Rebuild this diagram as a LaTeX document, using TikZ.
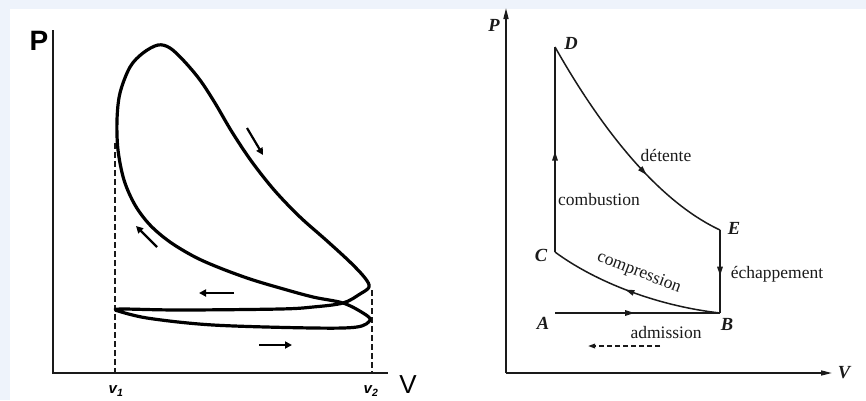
\documentclass[tikz,border=0pt]{standalone}
\usepackage{fontspec}
\setmainfont{Liberation Serif}
\newfontfamily\sansf{Liberation Sans}
\usetikzlibrary{arrows.meta,decorations.markings}
\definecolor{bgblue}{HTML}{EEF3FB}
\definecolor{ink}{HTML}{1A1A1A}
\begin{document}
\begin{tikzpicture}[x=1pt,y=-1pt,
  axisL/.style={line width=1.9pt,ink},
  dashv/.style={line width=1.7pt,ink,dash pattern=on 6pt off 3pt},
  loopline/.style={line width=3.2pt,black,line join=round},
  flowarrow/.style={line width=2.2pt,black,-{Triangle[length=7pt,width=7pt]}},
  thinline/.style={line width=1.5pt,ink},
  axisR/.style={line width=1.5pt,ink,-{Triangle[length=11pt,width=5pt]}},
  midarrow/.style={postaction={decorate},decoration={markings,
     mark=at position #1 with {\arrow{Triangle[length=9pt,width=5.5pt]}}}},
  lbl/.style={inner sep=0pt,font=\fontsize{17.5}{20}\selectfont,text=ink},
  ptlbl/.style={inner sep=0pt,font=\fontsize{18.5}{20}\selectfont\itshape\bfseries,text=ink},
  vlbl/.style={inner sep=0pt,font=\sansf\fontsize{15}{16}\selectfont\bfseries\itshape}
]
\useasboundingbox (0,0) rectangle (866,400);
\fill[bgblue] (0,0) rectangle (866,400);
\fill[white] (10,9) rectangle (866,400);

% ---------- left diagram ----------
\node[inner sep=0pt,font=\sansf\fontsize{28}{30}\selectfont\bfseries] (Pl) at (39,41) {P};
\node[inner sep=0pt,font=\sansf\fontsize{26}{28}\selectfont] (Vl) at (408,385) {V};
\coordinate (OL) at (53,373);
\coordinate (PtopL) at (53,30);
\coordinate (VendL) at (388,373);
\draw[axisL] (PtopL) -- (OL) -- (VendL);

\coordinate (v1top) at (115,143);
\coordinate (v1bot) at (115,373);
\coordinate (v2top) at (372,290);
\coordinate (v2bot) at (372,373);
\draw[dashv] (v1top) -- (v1bot);
\draw[dashv] (v2top) -- (v2bot);
\node[vlbl] (v1) at (116,391) {v\textsubscript{1}};
\node[vlbl] (v2) at (371,391) {v\textsubscript{2}};

\draw[loopline] plot[smooth, tension=0.55] coordinates {
 (115,310) (147,318) (213,325) (313,328) (357,327) (370,320) (363,313)
 (343,303) (313,297) (280,288) (250,279) (220,268) (195,257) (170,242)
 (150,225) (135,205) (124,180) (118,150) (117,120) (120,93) (130,67)
 (143,53) (158,45) (170,48) (184,61) (200,80) (215,103) (232,132)
 (252,162) (275,191) (300,217) (326,240) (350,262) (365,278) (369,287)
 (360,294) (343,303) (313,307) (280,309) (180,310) (123,309) (115,310)};

\coordinate (a1s) at (247,128); \coordinate (a1e) at (263,155);
\coordinate (a2s) at (157,247); \coordinate (a2e) at (136,226);
\coordinate (a3s) at (234,293); \coordinate (a3e) at (199,293);
\coordinate (a4s) at (259,345); \coordinate (a4e) at (292,345);
\draw[flowarrow] (a1s) -- (a1e);
\draw[flowarrow] (a2s) -- (a2e);
\draw[flowarrow] (a3s) -- (a3e);
\draw[flowarrow] (a4s) -- (a4e);

% ---------- right diagram ----------
\coordinate (OR) at (506,373);
\coordinate (PtopR) at (506,8);
\coordinate (VendR) at (832,373);
\draw[axisR] (OR) -- (PtopR);
\draw[axisR] (OR) -- (VendR);
\node[inner sep=0pt,font=\fontsize{18.5}{20}\selectfont\itshape\bfseries,text=ink] (Pr) at (494,25) {P};
\node[inner sep=0pt,font=\fontsize{18.5}{20}\selectfont\itshape\bfseries,text=ink] (Vr) at (844,373) {V};

\coordinate (D) at (555,47);
\coordinate (C) at (555,252);
\coordinate (E) at (720,230);
\coordinate (B) at (720,313);
\coordinate (A) at (555,313);

\draw[thinline,midarrow=0.49] (C) -- (D);
\draw[thinline,midarrow=0.63] (D) .. controls (585,100) and (645,195) .. (E);
\draw[thinline,midarrow=0.55] (E) -- (B);
\draw[thinline,midarrow=0.55] (B) .. controls (650,305) and (590,278) .. (C);
\draw[thinline,midarrow=0.48] (A) -- (B);

\coordinate (dashS) at (660,346);
\coordinate (dashE) at (588,346);
\draw[thinline,dash pattern=on 5pt off 3pt,-{Triangle[length=7pt,width=4.5pt]}] (dashS) -- (dashE);

\node[ptlbl] (Dl) at (571,43) {D};
\node[ptlbl] (Cl) at (541,255) {C};
\node[ptlbl] (El) at (734,228) {E};
\node[ptlbl] (Bl) at (727,324) {B};
\node[ptlbl] (Al) at (543,323) {A};

\node[lbl] (comb) at (599,200) {combustion};
\node[lbl] (det) at (666,155) {détente};
\node[lbl] (ech) at (777,274) {échappement};
\node[lbl] (adm) at (666,333) {admission};
\node[lbl,rotate=-21] (comp) at (639,273) {compression};
\end{tikzpicture}
\end{document}
